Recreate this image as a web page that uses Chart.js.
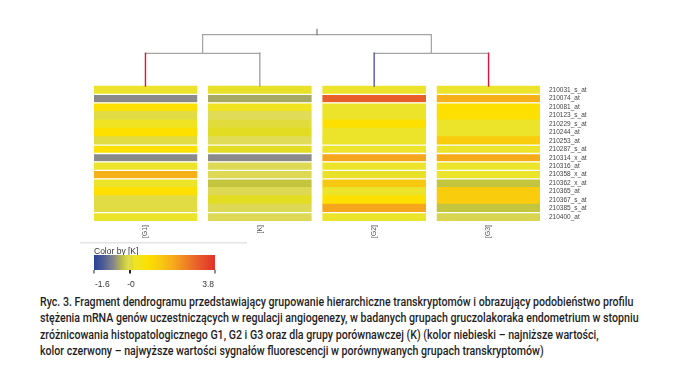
<!DOCTYPE html>
<html>
<head>
<meta charset="utf-8">
<script src="https://cdn.jsdelivr.net/npm/chart.js@4.4.0/dist/chart.umd.min.js"></script>
<style>
  body{margin:0;background:#fff;width:694px;height:380px;overflow:hidden;position:relative;}
  #wykres{position:absolute;left:0;top:0;}
  #podpis{position:absolute;left:40px;top:294px;font-family:"Roboto",sans-serif;font-weight:500;font-size:12.5px;line-height:16.4px;color:#1e1e1e;white-space:nowrap;transform:scaleX(0.85);transform-origin:left top;}
</style>
</head>
<body>
<canvas id="wykres" width="694" height="292"></canvas>
<div id="podpis">
Ryc. 3. Fragment dendrogramu przedstawiający grupowanie hierarchiczne transkryptomów i obrazujący podobieństwo profilu<br>
stężenia mRNA genów uczestniczących w regulacji angiogenezy, w badanych grupach gruczolakoraka endometrium w stopniu<br>
zróżnicowania histopatologicznego G1, G2 i G3 oraz dla grupy porównawczej (K) (kolor niebieski – najniższe wartości,<br>
kolor czerwony – najwyższe wartości sygnałów fluorescencji w porównywanych grupach transkryptomów)
</div>
<script>
// ----- dane
const kolumny = ["[G1]", "[K]", "[G2]", "[G3]"];
const geny = ["210031_s_at","210074_at","210081_at","210123_s_at","210229_s_at","210244_at","210253_at","210287_s_at",
              "210314_x_at","210316_at","210358_x_at","210362_x_at","210365_at","210367_s_at","210385_s_at","210400_at"];

const wartG1 = [0.2, -0.7, 0.8, 0.0, 0.3, 0.8, 0.0, 0.8, -0.7, 0.2, 1.8, 0.2, 0.8, 0.0, 0.0, 0.2];
const wartK  = [0.15, -0.5, 0.35, -0.05, 0.02, 0.08, -0.05, 0.08, -0.7, -0.08, -0.08, -0.3, -0.08, 0.08, -0.08, -0.08];
const wartG2 = [0.2, 3.0, 0.2, 0.2, 0.8, 0.2, 0.2, 0.2, 2.0, 0.2, 0.15, 1.4, 0.2, 0.8, 2.0, 0.2];
const wartG3 = [0.2, 1.8, 0.8, 0.8, 0.2, 0.2, 1.3, 0.2, 1.9, 0.2, 0.2, -0.3, 1.3, 1.3, -0.3, -0.12];
const sveVrednosti = [wartG1, wartK, wartG2, wartG3];

// bele linije posle ovih redova
const prekidi = [0, 1, 6, 7, 8, 9, 10, 14];

// dendrogram: visine spajanja (u jedinicama redova iznad mape)
const visinaParova = [3.87, 3.87];
const visinaKorena = 6.08;
const vrhKorena = 6.72;
const bojeListova = ["#dc143c", "#a3a3a3", "#5558a8", "#dc143c"];

// skala boja
const skalaMin = -1.6, skalaMax = 3.8;
const legendaTickovi = [-1.6, 0, 3.8];
const legendaNatpisi = ["-1.6", "-0", "3.8"];
const stopovi = [
  {v:-1.6, c:"#2a4399"},
  {v:-1.2, c:"#4c5b95"},
  {v:-0.7, c:"#8a8a8a"},
  {v:-0.3, c:"#c4c53e"},
  {v:-0.05, c:"#e0dc58"},
  {v:0.08, c:"#e2dc22"},
  {v:0.2, c:"#ece42a"},
  {v:0.8, c:"#fde000"},
  {v:1.4, c:"#f8c810"},
  {v:2.0, c:"#f5a61c"},
  {v:2.9, c:"#e8662a"},
  {v:3.8, c:"#e3302a"}
];

const sirinaKol = 0.9;

function hexURgb(h){
  return [parseInt(h.substr(1,2),16), parseInt(h.substr(3,2),16), parseInt(h.substr(5,2),16)];
}
function bojaZa(v){
  if(v <= stopovi[0].v) return stopovi[0].c;
  for(let i=1;i<stopovi.length;i++){
    if(v <= stopovi[i].v){
      let a = hexURgb(stopovi[i-1].c), b = hexURgb(stopovi[i].c);
      let t = (v - stopovi[i-1].v)/(stopovi[i].v - stopovi[i-1].v);
      let r = a.map((x,k)=>Math.round(x + (b[k]-x)*t));
      return "rgb("+r[0]+","+r[1]+","+r[2]+")";
    }
  }
  return stopovi[stopovi.length-1].c;
}

let skupovi = kolumny.map((k,i)=>({
  label: k,
  data: geny.map((g,j)=>({x:[i, i+sirinaKol], y:j})),
  backgroundColor: ctx => bojaZa(sveVrednosti[i][ctx.dataIndex]),
  borderWidth: 0,
  barPercentage: 1,
  categoryPercentage: 1,
  grouped: false
}));

const crtajDendro = {
  id: "crtajDendro",
  afterDatasetsDraw(chart){
    const ctx = chart.ctx;
    const x = chart.scales.x, y = chart.scales.y;
    const ca = chart.chartArea;
    ctx.save();

    // razmaci izmedju grupa redova
    ctx.strokeStyle = "#ffffff";
    ctx.lineWidth = 1.3;
    prekidi.forEach(b=>{
      let py = y.getPixelForValue(b + 0.5);
      ctx.beginPath();
      ctx.moveTo(ca.left, py);
      ctx.lineTo(ca.right, py);
      ctx.stroke();
    });

    // dendrogram
    const cx = i => x.getPixelForValue(i + sirinaKol/2);
    const py = h => y.getPixelForValue(-0.5 - h);
    function linija(x1,y1,x2,y2,c,w){
      ctx.strokeStyle = c;
      ctx.lineWidth = w || 1.2;
      ctx.lineCap = "square";
      ctx.beginPath();
      ctx.moveTo(x1,y1);
      ctx.lineTo(x2,y2);
      ctx.stroke();
    }
    let dno = y.getPixelForValue(-0.5);
    let sredine = [];
    [[0,1],[2,3]].forEach((par,p)=>{
      let h = visinaParova[p];
      linija(cx(par[0]), py(h), cx(par[1]), py(h), "#a3a3a3");
      sredine.push((cx(par[0])+cx(par[1]))/2);
    });
    sredine.forEach((s,p)=>linija(s, py(visinaParova[p]), s, py(visinaKorena), "#a3a3a3"));
    linija(sredine[0], py(visinaKorena), sredine[1], py(visinaKorena), "#a3a3a3");
    let koren = (sredine[0]+sredine[1])/2;
    linija(koren, py(visinaKorena), koren, py(vrhKorena), "#777777");
    // stabljike listova (boja po grupi)
    kolumny.forEach((k,i)=>{
      let h = visinaParova[i < 2 ? 0 : 1];
      linija(cx(i), dno, cx(i), py(h), bojeListova[i], 1.4);
    });
    ctx.restore();
  },
  afterDraw(chart){
    // legenda boja
    const ctx = chart.ctx;
    const lx0 = 94, lx1 = 215, ly0 = 255, ly1 = 270;
    const lx = v => lx0 + (v - skalaMin)/(skalaMax - skalaMin)*(lx1 - lx0);
    ctx.save();
    ctx.fillStyle = "#e4e4e4";
    ctx.fillRect(80, 242, 167, 1.5);

    ctx.fillStyle = "#333";
    ctx.font = "8.5px 'Liberation Sans', Arial, sans-serif";
    ctx.textBaseline = "alphabetic";
    ctx.textAlign = "left";
    ctx.fillText("Color by [K]", 94, 253.5);

    let gr = ctx.createLinearGradient(lx0, 0, lx1, 0);
    stopovi.forEach(s=>gr.addColorStop((s.v - skalaMin)/(skalaMax - skalaMin), s.c));
    ctx.fillStyle = gr;
    ctx.fillRect(lx0, ly0, lx1 - lx0, ly1 - ly0);

    legendaTickovi.forEach((t,k)=>{
      let px = Math.round(lx(t));
      ctx.fillStyle = "#222";
      ctx.fillRect(px - (k===1?1:0.5), ly1, k===1?2:1, 3.5);
      ctx.textAlign = k===0 ? "left" : (k===1 ? "center" : "right");
      ctx.fillStyle = "#333";
      ctx.fillText(legendaNatpisi[k], k===0 ? px+1 : (k===2 ? px-1 : px+1), 287);
    });
    ctx.restore();
  }
};

new Chart(document.getElementById("wykres"), {
  type: "bar",
  data: { datasets: skupovi },
  options: {
    indexAxis: "y",
    responsive: false,
    animation: false,
    devicePixelRatio: 1,
    layout: { padding: { left: 94, right: 74, top: 29, bottom: 47 } },
    plugins: { legend: { display: false }, tooltip: { enabled: false } },
    scales: {
      x: {
        type: "linear",
        min: 0,
        max: kolumny.length - 1 + sirinaKol,
        offset: false,
        grid: { display: false, drawTicks: false, offset: false },
        border: { display: false },
        afterBuildTicks: s => { s.ticks = kolumny.map((k,i)=>({value: i + sirinaKol/2})); },
        afterFit: s => { s.height = 24; s.paddingLeft = 0; s.paddingRight = 0; },
        ticks: {
          autoSkip: false,
          minRotation: 90,
          maxRotation: 90,
          padding: 4,
          color: "#555",
          font: { size: 7, family: "'Liberation Sans', Arial, sans-serif" },
          callback: (v, i) => kolumny[i]
        }
      },
      y: {
        type: "linear",
        position: "right",
        reverse: true,
        offset: false,
        min: -7.25,
        max: geny.length - 0.5,
        grid: { display: false, drawTicks: false, offset: false },
        border: { display: false },
        afterBuildTicks: s => { s.ticks = geny.map((g,j)=>({value: j})); },
        afterFit: s => { s.width = 80; s.paddingTop = 0; s.paddingBottom = 0; },
        ticks: {
          autoSkip: false,
          padding: 9,
          color: "#444",
          font: { size: 6.5, family: "'Liberation Sans', Arial, sans-serif" },
          callback: (v, i) => geny[i]
        }
      }
    }
  },
  plugins: [crtajDendro]
});
</script>
</body>
</html>
